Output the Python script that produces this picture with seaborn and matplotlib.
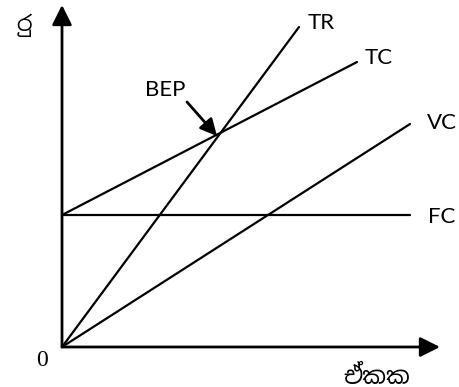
import matplotlib
matplotlib.use("Agg")
import matplotlib.pyplot as plt
from matplotlib import font_manager
import seaborn as sns
import pandas as pd

# break-even chart, values (1 unit ~ 1 px)
lines = ["FC", "TC", "TR", "VC"]
x_start = [0, 0, 0, 0]
x_end = [348, 295, 237, 348]
y_start = [132, 132, 0, 0]
y_end = [132, 285, 320, 223]

x_label = "ඒකක"
y_label = "රු"
bep_label = "BEP"
bep_point = (155, 211)

df = pd.DataFrame({
    "line": lines * 2,
    "x": x_start + x_end,
    "y": y_start + y_end,
})

sns.set_theme(style="white", rc={"text.color": "black"})
sinhala = [f.name for f in font_manager.fontManager.ttflist if "Sinhala" in f.name]
plt.rcParams["font.family"] = ["Lato"] + sinhala[:1] + ["DejaVu Sans"]

fig = plt.figure(figsize=(4.59, 3.87), dpi=100)
ax = fig.add_axes([62 / 459, 40 / 387, 378 / 459, 342 / 387])

sns.lineplot(data=df, x="x", y="y", units="line", estimator=None,
             color="black", lw=1.6, ax=ax)

ax.set_xlim(0, 378)
ax.set_ylim(0, 342)
ax.set_axis_off()

# axes with arrow heads
arrow = dict(arrowstyle="-|>,head_length=0.6,head_width=0.3",
             color="black", lw=2, mutation_scale=20, shrinkA=0, shrinkB=0)
ax.annotate("", xy=(378, 0), xytext=(0, 0), arrowprops=arrow, annotation_clip=False)
ax.annotate("", xy=(0, 342), xytext=(0, 0), arrowprops=arrow, annotation_clip=False)

# line labels
label_pos = {"TR": (259, 324), "TC": (317, 289), "VC": (380, 224), "FC": (380, 130)}
for name, (lx, ly) in label_pos.items():
    ax.text(lx, ly, name, fontsize=16, ha="center", va="center")

ax.text(103, 257, bep_label, fontsize=16, ha="center", va="center")
ax.annotate("", xy=bep_point, xytext=(125, 245),
            arrowprops=dict(arrowstyle="-|>,head_length=0.5,head_width=0.25",
                            color="black", lw=2, mutation_scale=20,
                            shrinkA=0, shrinkB=0))

ax.text(-38, 322, y_label, fontsize=16, ha="center", va="center", clip_on=False)
ax.text(-20, -14, "0", fontsize=17, ha="center", va="center",
        family="Liberation Serif", clip_on=False)
ax.text(315, -29, x_label, fontsize=17, ha="center", va="center", clip_on=False)

fig.savefig("out.png", dpi=100, facecolor="white")
